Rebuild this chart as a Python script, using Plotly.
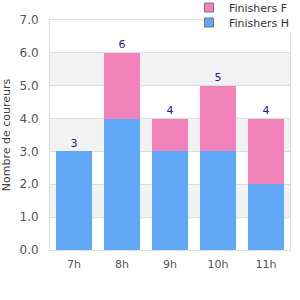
import plotly.graph_objects as go

categories = ["7h", "8h", "9h", "10h", "11h"]
finishers_h = [3, 4, 3, 3, 2]
finishers_f = [0, 2, 1, 2, 2]
totals = [h + f for h, f in zip(finishers_h, finishers_f)]
y_ticks = [0, 1, 2, 3, 4, 5, 6, 7]
y_tick_labels = ["0.0", "1.0", "2.0", "3.0", "4.0", "5.0", "6.0", "7.0"]

BLUE = "#60a8f5"
PINK = "#f283ba"
FONT = "DejaVu Sans"

fig = go.Figure()
fig.add_trace(go.Bar(x=categories, y=finishers_h, name="Finishers H",
                     marker=dict(color=BLUE, line=dict(width=0)), showlegend=False,
                     width=0.73))
fig.add_trace(go.Bar(x=categories, y=finishers_f, name="Finishers F",
                     marker=dict(color=PINK, line=dict(width=0)), showlegend=False,
                     width=0.73))
fig.add_trace(go.Scatter(x=categories, y=totals, mode="markers+text", text=[str(t) for t in totals],
                         marker=dict(size=1, color="rgba(0,0,0,0)"),
                         textposition="top center", textfont=dict(color="#1e1e8c", size=11, family=FONT),
                         showlegend=False, hoverinfo="skip", cliponaxis=False))
# legend entries
fig.add_trace(go.Scatter(x=[None], y=[None], mode="markers", name="Finishers F", legend="legend",
                         marker=dict(symbol="square", size=9, color=PINK, line=dict(color="#777", width=1))))
fig.add_trace(go.Scatter(x=[None], y=[None], mode="markers", name="Finishers H", legend="legend2",
                         marker=dict(symbol="square", size=9, color=BLUE, line=dict(color="#777", width=1))))

shapes = []
for lo in [1, 3, 5]:
    shapes.append(dict(type="rect", xref="x domain", yref="y", x0=0, x1=1, y0=lo, y1=lo + 1,
                       fillcolor="#f2f2f2", line=dict(width=0), layer="below"))

legend_style = dict(xanchor="left", yanchor="top", bgcolor="rgba(0,0,0,0)",
                    font=dict(size=11, color="#333", family=FONT), itemsizing="trace")

fig.update_layout(
    width=300, height=300,
    margin=dict(l=50, r=0, t=0, b=50, autoexpand=False),
    barmode="stack",
    bargap=0.27,
    plot_bgcolor="white", paper_bgcolor="white",
    font=dict(family=FONT, size=11, color="#555"),
    shapes=shapes,
    showlegend=True,
    legend=dict(x=0.556, y=1.028, **legend_style),
    legend2=dict(x=0.556, y=0.968, **legend_style),
    xaxis=dict(domain=[0, 0.96], showgrid=False, showline=True, linecolor="#ddd", linewidth=1, mirror=True,
               ticks="outside", ticklen=4, tickcolor="white", tickfont=dict(size=11, color="#555")),
    yaxis=dict(domain=[0, 0.92], range=[0, 7], tickvals=y_ticks, ticktext=y_tick_labels, showgrid=True,
               gridcolor="#ddd", gridwidth=1, showline=True, linecolor="#ddd", linewidth=1, mirror=True,
               zeroline=False, ticks="outside", ticklen=8, tickcolor="white",
               tickfont=dict(size=12, color="#555"),
               title=dict(text="Nombre de coureurs", font=dict(size=11, color="#444"), standoff=6)),
)
# white patch behind the legend area (as in the reference) covering the frame corner
fig.add_shape(type="rect", xref="paper", yref="paper", x0=0.612, x1=1.0, y0=0.868, y1=1.0,
              fillcolor="white", line=dict(width=0), layer="above")

fig.write_html("out.html")
